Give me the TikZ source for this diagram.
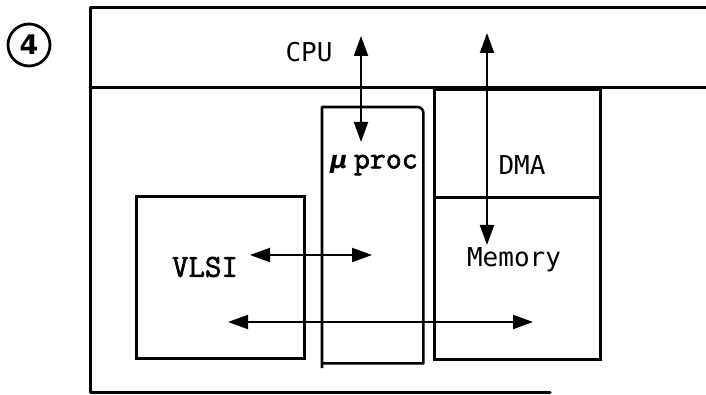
\documentclass[tikz,border=0pt]{standalone}
\usepackage{fontspec}
\newfontfamily\courfont[FakeBold=2]{Latin Modern Mono}
\newfontfamily\sansmono{DejaVu Sans Mono}
\newfontfamily\numfont{DejaVu Sans}
\usetikzlibrary{arrows.meta}
\begin{document}
\begin{tikzpicture}[x=1pt,y=-1pt,
  frameline/.style={line width=3pt, line cap=round, line join=round},
  boxline/.style={line width=2.6pt, line join=round},
  box/.style={draw, line width=2.6pt, inner sep=0pt, anchor=north west},
  tip/.tip={Triangle[length=20pt,width=14pt]},
  link/.style={line width=2pt, tip-tip},
  lbl/.style={font=\sansmono\fontsize{26}{26}\selectfont},
  clbl/.style={font=\courfont\fontsize{32}{32}\selectfont}]
\useasboundingbox (0,0) rectangle (706,395);

% outer frame and CPU band
\coordinate (ftr) at (706,8);
\coordinate (ftl) at (90,8);
\coordinate (fbl) at (90,392);
\coordinate (fbr) at (550,392);
\coordinate (cl) at (90,88);
\coordinate (cr) at (706,88);
\draw[frameline] (ftr) -- (ftl) -- (fbl) -- (fbr);
\draw[frameline] (cl) -- (cr);

% circled number
\node[circle, draw, line width=2.8pt, minimum size=42pt, inner sep=0pt] (num) at (29,45)
  {\numfont\bfseries\fontsize{27}{27}\selectfont 4};

% labels/boxes
\node[lbl] (cpu) at (309,52) {CPU};
\node[box, minimum width=168pt, minimum height=162pt] (vlsi) at (135,195) {};
\node[clbl] (vlsit) at (205,267) {VLSI};
\node[box, minimum width=166pt, minimum height=108pt] (dma) at (433,88) {};
\node[lbl] (dmat) at (522,165) {DMA};
\node[box, minimum width=166pt, minimum height=162pt] (mem) at (433,196) {};
\node[lbl] (memt) at (514,260) {Memory};
\node[inner sep=0pt, minimum width=101pt, minimum height=256pt, anchor=north west] (up) at (322,107) {};
\coordinate (upx) at (322,368);
\draw[boxline] (upx) -- (up.north west) [rounded corners=6pt] -- (up.north east) [sharp corners] -- (up.south east) -- (up.south west);
\node[clbl, anchor=center, inner sep=0pt] (upt) at (374,165) {{\numfont\bfseries\itshape\fontsize{24}{24}\selectfont μ}\hspace{6pt}{\fontsize{31}{31}\selectfont proc}};

% connectors
\coordinate (a1t) at (361,36);
\coordinate (a1b) at (361,142);
\draw[link] (a1t) -- (a1b);
\coordinate (a2t) at (487,33);
\coordinate (a2b) at (487,245);
\draw[link] (a2t) -- (a2b);
\coordinate (a3l) at (250,255);
\coordinate (a3r) at (372,255);
\draw[link] (a3l) -- (a3r);
\coordinate (a4l) at (228,322);
\coordinate (a4r) at (533,322);
\draw[link] (a4l) -- (a4r);
\end{tikzpicture}
\end{document}
